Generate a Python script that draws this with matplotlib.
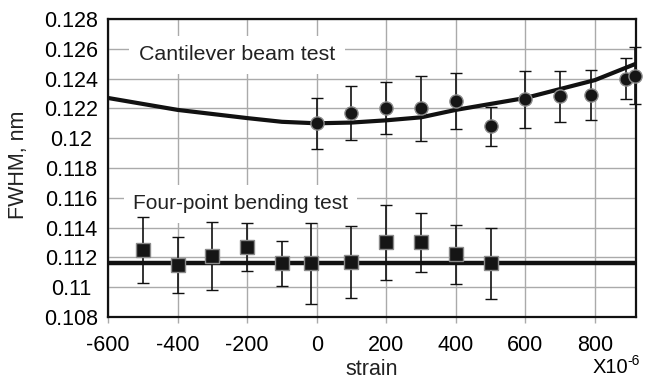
import numpy as np
import matplotlib
matplotlib.use("Agg")
import matplotlib.pyplot as plt
from matplotlib.ticker import FormatStrFormatter

plt.rcParams['font.family'] = ['Liberation Sans', 'DejaVu Sans']
plt.rcParams['axes.unicode_minus'] = False

# Cantilever beam test
cant_strain = [0, 100, 200, 300, 400, 500, 600, 700, 790, 890, 915]
cant_fwhm = [0.1210, 0.1217, 0.1220, 0.1220, 0.1225, 0.1208, 0.1226, 0.1228, 0.1229, 0.1240, 0.1242]
cant_err = [0.0017, 0.0018, 0.00175, 0.0022, 0.0019, 0.0013, 0.0019, 0.0017, 0.0017, 0.00135, 0.0019]

# fitted curve through cantilever data
fit_strain = [-600, -400, -200, -100, 0, 100, 200, 300, 400, 500, 600, 700, 800, 918]
fit_fwhm = [0.1227, 0.1219, 0.12135, 0.1211, 0.1210, 0.12105, 0.1212, 0.1214, 0.1219,
            0.1223, 0.1227, 0.1233, 0.1239, 0.1250]

# Four-point bending test
bend_strain = [-500, -400, -300, -200, -100, -15, 100, 200, 300, 400, 500]
bend_fwhm = [0.1125, 0.1115, 0.1121, 0.1127, 0.1116, 0.1116, 0.1117, 0.1130, 0.1130, 0.1122, 0.1116]
bend_err = [0.0022, 0.0019, 0.0023, 0.0016, 0.0015, 0.0027, 0.0024, 0.0025, 0.0020, 0.0020, 0.0024]
bend_level = 0.11165

xticks = [-600, -400, -200, 0, 200, 400, 600, 800]
yticks = [0.108, 0.11, 0.112, 0.114, 0.116, 0.118, 0.12, 0.122, 0.124, 0.126, 0.128]

fig = plt.figure(figsize=(6.46, 3.8), dpi=100)
ax = fig.add_axes([0.1672, 0.1658, 0.8173, 0.7842])

ax.set_xlim(-600, 918)
ax.set_ylim(0.108, 0.128)
ax.set_xticks(xticks)
ax.set_yticks(yticks)
ax.yaxis.set_major_formatter(FormatStrFormatter('%g'))
ax.grid(True, color='#aaaaaa', lw=1.0)
ax.set_axisbelow(True)
for s in ax.spines.values():
    s.set_linewidth(1.6)
    s.set_color('#111111')
ax.tick_params(axis='x', length=4.3, color='#aaaaaa', width=1.0, labelsize=15.5, pad=8.5)
ax.tick_params(axis='y', length=0, labelsize=15.5, pad=26.6)
for lbl in ax.get_yticklabels():
    lbl.set_ha('center')

# lines
ax.plot(fit_strain, fit_fwhm, color='#111111', lw=3, zorder=3, solid_capstyle='butt')
ax.plot([-600, 918], [bend_level, bend_level], color='#111111', lw=3.2, zorder=3)

ax.errorbar(cant_strain, cant_fwhm, yerr=cant_err, fmt='o', ms=9.5, mfc='#151515',
            mec='#8a8a8a', mew=1.0, ecolor='#111111', elinewidth=1.2, capsize=4,
            capthick=1.2, zorder=4, clip_on=False)
ax.errorbar(bend_strain, bend_fwhm, yerr=bend_err, fmt='s', ms=10, mfc='#151515',
            mec='#8a8a8a', mew=1.0, ecolor='#111111', elinewidth=1.2, capsize=4,
            capthick=1.2, zorder=4)

box = dict(boxstyle='square,pad=0.45', fc='white', ec='none')
ax.text(-511, 0.1256, 'Cantilever beam test', fontsize=15.4, va='center', ha='left',
        color='#222222', bbox=box, zorder=2.5)
ax.text(-528, 0.1156, 'Four-point bending test', fontsize=15, va='center', ha='left',
        color='#222222', bbox=box, zorder=2.5)

fig.text(372 / 646, 5 / 380, 'strain', fontsize=15.5, ha='center', va='baseline',
         color='#222222')
fig.text(19 / 646, 1 - 165 / 380, 'FWHM, nm', fontsize=15.5, rotation=90,
         ha='center', va='center', color='#222222')

fig.text(593 / 646, 7 / 380, 'X10', fontsize=14.5, ha='left', va='baseline')
fig.text(627 / 646, 15 / 380, '-6', fontsize=10, ha='left', va='baseline')

fig.savefig('out.png', dpi=100)
